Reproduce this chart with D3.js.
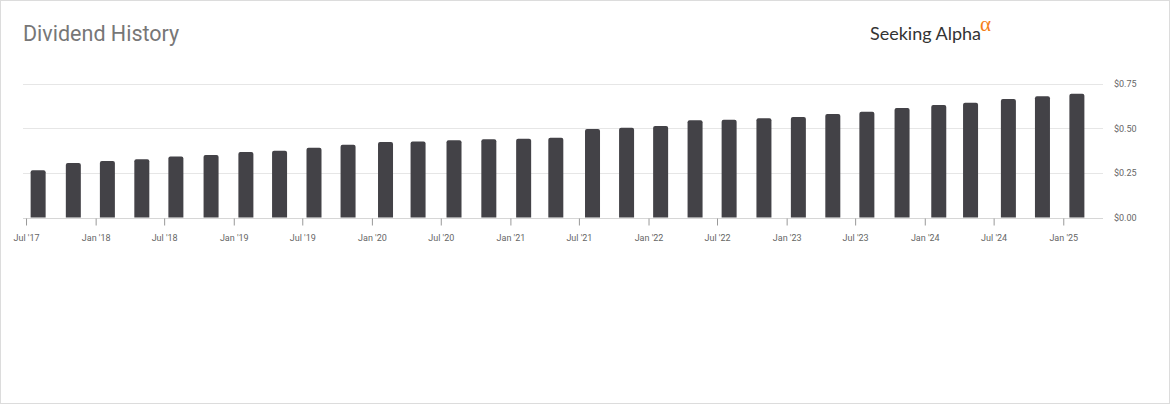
<!DOCTYPE html>
<html>
<head>
<meta charset="utf-8">
<script src="https://d3js.org/d3.v7.min.js"></script>
<style>
  body{
      margin: 0;
      background: #fff;
  }
  .axis text{
      font-family: Roboto, sans-serif;
      font-size: 9px;
      fill: #666;
  }
</style>
</head>
<body>
<script>
    // payout dates (ex-div) and amount per share
    var payDates = ["2017-08-02", "2017-11-03", "2018-02-01", "2018-05-03", "2018-08-01", "2018-11-02",
                    "2019-02-02", "2019-05-02", "2019-08-01", "2019-10-30", "2020-02-06", "2020-05-02",
                    "2020-08-05", "2020-11-05", "2021-02-05", "2021-05-01", "2021-08-06", "2021-11-04",
                    "2022-02-02", "2022-05-04", "2022-08-02", "2022-11-02", "2023-02-01", "2023-05-03",
                    "2023-08-01", "2023-11-02", "2024-02-07", "2024-05-01", "2024-08-09", "2024-11-07",
                    "2025-02-06"];
    var dividends = [0.264, 0.305, 0.316, 0.326, 0.342, 0.350, 0.367, 0.374, 0.391, 0.407, 0.4225, 0.426,
                     0.432, 0.4376, 0.441, 0.4466, 0.495, 0.5025, 0.512, 0.544, 0.547, 0.556, 0.562, 0.579,
                     0.592, 0.613, 0.630, 0.642, 0.663, 0.678, 0.693];
    var yTicks = [0, 0.25, 0.5, 0.75];
    var xStart = "2017-06-23", xEnd = "2025-04-16";

    var svgWidth = 1170;
    var svgHeight = 405;
    var plotLeft = 23, plotRight = 1103, plotTop = 83.5, plotBottom = 217.5;
    var barColor = "#434247";
    var barW = 15;

    var parse = d3.timeParse("%Y-%m-%d");
    var data = payDates.map(function(d, i){ return {date: parse(d), value: dividends[i]}; });

    var svg = d3.select("body")
        .append("svg")
        .attr("width", svgWidth)
        .attr("height", svgHeight);

    // frame
    svg.append("rect")
        .attr("x", 0.5).attr("y", 0.5)
        .attr("width", svgWidth - 1).attr("height", svgHeight - 2)
        .attr("fill", "none")
        .attr("stroke", "#dcdcdc");

    // title
    svg.append("text")
        .attr("x", 23).attr("y", 41)
        .style("font-family", "Roboto, sans-serif")
        .style("font-size", "21.5px")
        .style("fill", "#777")
        .text("Dividend History");

    // logo
    var logo = svg.append("text")
        .attr("x", 870).attr("y", 39.5)
        .style("font-family", "Lato, sans-serif")
        .style("font-size", "18px")
        .style("fill", "#333");
    logo.append("tspan").text("Seeking Alpha");
    logo.append("tspan")
        .attr("dy", -9).attr("dx", -1)
        .style("font-family", "'Liberation Serif', serif")
        .style("fill", "#f57f17")
        .style("font-size", "21px")
        .text("\u03b1");

    var x = d3.scaleTime()
        .domain([parse(xStart), parse(xEnd)])
        .range([plotLeft, plotRight]);

    var y = d3.scaleLinear()
        .domain([0, 0.75])
        .range([plotBottom, plotTop]);

    // gridlines
    svg.selectAll("line.grid")
        .data(yTicks)
        .enter().append("line")
        .attr("class", "grid")
        .attr("x1", plotLeft).attr("x2", plotRight)
        .attr("y1", function(d){ return Math.round(y(d)) + 0.5; })
        .attr("y2", function(d){ return Math.round(y(d)) + 0.5; })
        .attr("stroke", function(d){ return d === 0 ? "#d6d6d6" : "#e6e6e6"; })
        .attr("stroke-width", 1);

    // bars with rounded tops
    var r = 2;
    svg.selectAll("path.bar")
        .data(data)
        .enter().append("path")
        .attr("class", "bar")
        .attr("fill", barColor)
        .attr("d", function(d){
            var x0 = x(d.date) - barW / 2, x1 = x0 + barW;
            var yt = y(d.value), yb = y(0);
            return "M" + x0 + "," + yb + "V" + (yt + r) +
                   "Q" + x0 + "," + yt + " " + (x0 + r) + "," + yt +
                   "H" + (x1 - r) +
                   "Q" + x1 + "," + yt + " " + x1 + "," + (yt + r) +
                   "V" + yb + "Z";
        });

    // x axis
    var xAxis = svg.append("g")
        .attr("class", "axis")
        .attr("transform", "translate(0," + (plotBottom + 1) + ")")
        .call(d3.axisBottom(x)
            .ticks(d3.timeMonth.every(6))
            .tickFormat(d3.timeFormat("%b '%y"))
            .tickSize(7)
            .tickPadding(9));
    xAxis.select(".domain").remove();
    xAxis.selectAll(".tick line").attr("stroke", "#999");

    // y axis on the right
    var yAxis = svg.append("g")
        .attr("class", "axis")
        .attr("transform", "translate(" + plotRight + ",0)")
        .call(d3.axisRight(y)
            .tickValues(yTicks)
            .tickFormat(d3.format("$.2f"))
            .tickSize(0)
            .tickPadding(11));
    yAxis.select(".domain").remove();
</script>
</body>
</html>
